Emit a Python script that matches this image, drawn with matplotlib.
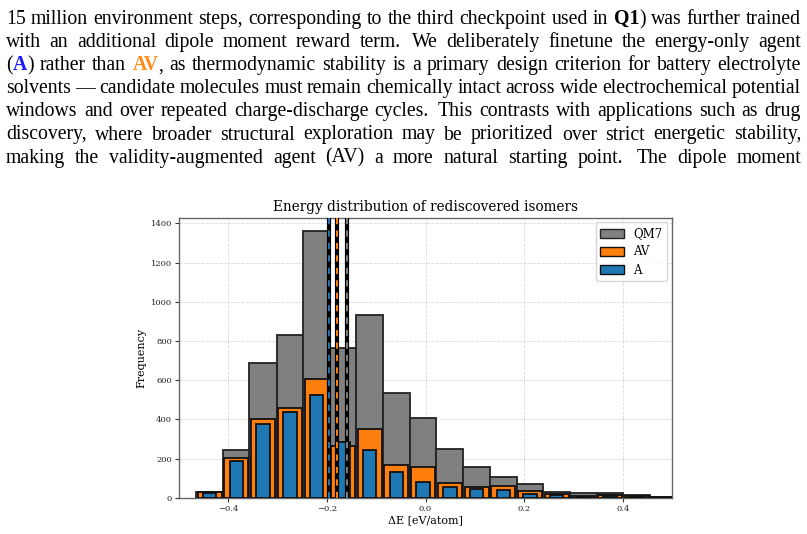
import numpy as np
import matplotlib
matplotlib.use("Agg")
import matplotlib.pyplot as plt
from matplotlib.patches import Patch

# ---------------- data ----------------
bin_edges = [-0.465, -0.411, -0.357, -0.302, -0.248, -0.194, -0.140, -0.086, -0.032,
             0.022, 0.077, 0.131, 0.185, 0.239, 0.293, 0.347, 0.401, 0.456, 0.510]
qm7_counts = [30, 243, 689, 831, 1361, 765, 930, 535, 407, 251, 158, 105, 70, 31, 24, 22, 14, 6]
av_counts = [28, 205, 404, 458, 604, 266, 350, 166, 158, 76, 53, 59, 34, 19, 9, 15, 8, 3]
a_counts = [22, 189, 378, 438, 523, 282, 243, 131, 78, 56, 44, 39, 20, 12, 5, 10, 3, 1]
mean_a = -0.1966
mean_av = -0.1797
mean_qm7 = -0.1587
series_labels = ["QM7", "AV", "A"]
xticks = [-0.4, -0.2, 0.0, 0.2, 0.4]
yticks = [0, 200, 400, 600, 800, 1000, 1200, 1400]

# paragraph text: {bold}, <bold blue>, [bold orange]
R, B, BB, BO = "r", "b", "bblue", "borange"
para_lines = [
    "15 million environment steps, corresponding to the third checkpoint used in {Q1}) was further trained",
    "with an additional dipole moment reward term.  We deliberately finetune the energy-only agent",
    "(<A>) rather than [AV], as thermodynamic stability is a primary design criterion for battery electrolyte",
    "solvents — candidate molecules must remain chemically intact across wide electrochemical potential",
    "windows and over repeated charge-discharge cycles. This contrasts with applications such as drug",
    "discovery, where broader structural exploration may be prioritized over strict energetic stability,",
    "making the validity-augmented agent (AV) a more natural starting point.  The dipole moment",
]

W_PX, H_PX = 807, 534
fig = plt.figure(figsize=(W_PX / 100, H_PX / 100), dpi=100)
renderer = fig.canvas.get_renderer()

FS = 14.2
style_props = {
    R: dict(weight="normal", color="black"),
    B: dict(weight="bold", color="black"),
    BB: dict(weight="bold", color="#1a1aff"),
    BO: dict(weight="bold", color="#ff8c1a"),
}


def parse_word(w):
    segs = []
    cur, st = "", R
    openers = {"{": B, "<": BB, "[": BO}
    closers = "}>]"
    for ch in w:
        if ch in openers:
            if cur:
                segs.append((cur, st))
            cur, st = "", openers[ch]
        elif ch in closers:
            if cur:
                segs.append((cur, st))
            cur, st = "", R
        else:
            cur += ch
    if cur:
        segs.append((cur, st))
    return segs


def seg_width(s, st):
    t = fig.text(0, 0, s, fontsize=FS, family="Liberation Serif", **style_props[st])
    w = t.get_window_extent(renderer).width
    t.remove()
    return w


X0, X1 = 6.0, 801.0
BASE0, LSTEP = 24.0, 23.1
for li, line in enumerate(para_lines):
    words = [parse_word(w) for w in line.split()]
    widths = [[seg_width(s, st) for s, st in w] for w in words]
    total = sum(sum(ws) for ws in widths)
    weights = []
    for w in words[:-1]:
        last = w[-1][0]
        weights.append(1.35 if last.endswith(".") else 1.0)
    unit = (X1 - X0 - total) / sum(weights)
    x = X0
    y = BASE0 + li * LSTEP
    for wi, (w, ws) in enumerate(zip(words, widths)):
        for (s, st), sw in zip(w, ws):
            fig.text(x / W_PX, 1 - y / H_PX, s, fontsize=FS, family="Liberation Serif",
                     va="baseline", ha="left", **style_props[st])
            x += sw
        if wi < len(weights):
            x += unit * weights[wi]

# ---------------- chart ----------------
plt.rcParams["font.family"] = "DejaVu Serif"
ax = fig.add_axes([179 / W_PX, 1 - 497.7 / H_PX, (672 - 179) / W_PX, (497.7 - 217.7) / H_PX])

edges = np.array(bin_edges)
centers = (edges[:-1] + edges[1:]) / 2
widths = np.diff(edges)

ax.bar(centers, qm7_counts, width=widths * 1.0, color="#808080", edgecolor="#222222",
       linewidth=1.3, zorder=2, label=series_labels[0])
ax.bar(centers, av_counts, width=widths * 0.9, color="#ff7f0e", edgecolor="#111111",
       linewidth=1.3, zorder=3, label=series_labels[1])
ax.bar(centers, a_counts, width=widths * 0.5, color="#1f77b4", edgecolor="#111111",
       linewidth=1.3, zorder=4, label=series_labels[2])

for m, c in [(mean_a, "#1f77b4"), (mean_av, "#ff7f0e"), (mean_qm7, "#808080")]:
    ax.axvline(m, color="black", lw=3.0, zorder=5)
    ax.axvline(m, color=c, lw=1.4, linestyle=(0, (3.2, 3.2)), zorder=6)

ax.set_xlim(-0.5, 0.5)
ax.set_ylim(0, 1429)
ax.set_xticks(xticks)
ax.set_yticks(yticks)
ax.set_xticklabels([f"{v:.1f}".replace("-", "\u2212") for v in xticks], fontsize=6)
ax.set_yticklabels([str(v) for v in yticks], fontsize=6)
ax.tick_params(length=3, width=0.8, pad=2, colors="#333333", labelcolor="#222222")
ax.grid(True, linestyle="--", linewidth=0.6, color="#d0d0d0", alpha=0.8)
ax.set_axisbelow(True)
for sp in ax.spines.values():
    sp.set_color("#666666")
    sp.set_linewidth(1.0)

ax.set_title("Energy distribution of rediscovered isomers", fontsize=9.8, pad=4.5)
ax.set_xlabel("\u0394E [eV/atom]", fontsize=8, labelpad=2)
ax.set_ylabel("Frequency", fontsize=8, labelpad=3)

handles = [Patch(facecolor="#808080", edgecolor="#222222", label=series_labels[0]),
           Patch(facecolor="#ff7f0e", edgecolor="#111111", label=series_labels[1]),
           Patch(facecolor="#1f77b4", edgecolor="#111111", label=series_labels[2])]
ax.legend(handles=handles, loc="upper right", fontsize=8.5, frameon=True, fancybox=True,
          borderpad=0.4, handlelength=2.0, handleheight=0.8, labelspacing=0.45,
          borderaxespad=0.4)

fig.savefig("out.png", dpi=100)
